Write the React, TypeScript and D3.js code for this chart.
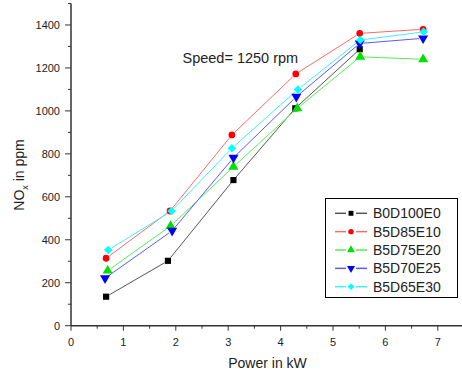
import { useEffect, useRef } from 'react'
import * as d3 from 'd3'

// Series data (power kW, NOx ppm)
const SERIES_NAMES = ['B0D100E0', 'B5D85E10', 'B5D75E20', 'B5D70E25', 'B5D65E30']

const powerB0D100E0 = [0.67, 1.85, 3.1, 4.28, 5.51]
const noxB0D100E0 = [135, 302, 678, 1012, 1287]

const powerB5D85E10 = [0.67, 1.89, 3.07, 4.29, 5.51, 6.72]
const noxB5D85E10 = [314, 534, 888, 1172, 1361, 1380]

const powerB5D75E20 = [0.7, 1.9, 3.1, 4.32, 5.52, 6.72]
const noxB5D75E20 = [256, 464, 740, 1012, 1252, 1240]

const powerB5D70E25 = [0.65, 1.93, 3.1, 4.3, 5.51, 6.72]
const noxB5D70E25 = [221, 442, 782, 1066, 1314, 1338]

const powerB5D65E30 = [0.71, 1.92, 3.07, 4.33, 5.52, 6.73]
const noxB5D65E30 = [352, 534, 826, 1100, 1330, 1368]

const X_TICKS = [0, 1, 2, 3, 4, 5, 6, 7]
const Y_TICKS = [0, 200, 400, 600, 800, 1000, 1200, 1400]

const STYLES = [
  { marker: 'square', color: '#000000', line: '#555555' },
  { marker: 'circle', color: '#ff0000', line: '#ff6a6a' },
  { marker: 'triUp', color: '#00e000', line: '#55ee55' },
  { marker: 'triDown', color: '#0000ff', line: '#5a5aff' },
  { marker: 'diamond', color: '#00ffff', line: '#3ff0ff' },
]

const FONT = '"Liberation Sans", Arial, sans-serif'

function markerPath(kind: string) {
  switch (kind) {
    case 'square': return d3.symbol(d3.symbolSquare, 38)()
    case 'circle': return d3.symbol(d3.symbolCircle, 36)()
    case 'triUp': return d3.symbol(d3.symbolTriangle, 44)()
    case 'triDown': return d3.symbol(d3.symbolTriangle, 44)()
    default: return d3.symbol(d3.symbolSquare, 36)() // rotated 45deg -> diamond
  }
}

function markerRotation(kind: string) {
  if (kind === 'triDown') return ' rotate(180)'
  if (kind === 'diamond') return ' rotate(45)'
  return ''
}

export default function App() {
  const ref = useRef<SVGSVGElement>(null)

  useEffect(() => {
    if (!ref.current) return
    const svg = d3.select(ref.current)
    svg.selectAll('*').remove()

    const series = [
      { x: powerB0D100E0, y: noxB0D100E0 },
      { x: powerB5D85E10, y: noxB5D85E10 },
      { x: powerB5D75E20, y: noxB5D75E20 },
      { x: powerB5D70E25, y: noxB5D70E25 },
      { x: powerB5D65E30, y: noxB5D65E30 },
    ]

    const x = d3.scaleLinear().domain([0, 7.5]).range([71, 464])
    const y = d3.scaleLinear().domain([0, 1500]).range([325.7, 3.5])

    const axisColor = '#333333'

    // X axis
    const gx = svg.append('g').attr('transform', `translate(0,${y(0)})`)
    gx.append('line').attr('x1', x(0)).attr('x2', x(7.5)).attr('stroke', axisColor).attr('stroke-width', 1.5)
    d3.range(0, 7.5, 0.5).forEach(v => {
      const major = Number.isInteger(v)
      gx.append('line')
        .attr('x1', x(v)).attr('x2', x(v))
        .attr('y1', 0).attr('y2', major ? 5 : 3)
        .attr('stroke', axisColor).attr('stroke-width', 1)
    })
    X_TICKS.forEach(v => {
      gx.append('text')
        .attr('x', x(v)).attr('y', 20)
        .attr('text-anchor', 'middle')
        .attr('font-family', FONT).attr('font-size', 11)
        .attr('fill', '#222')
        .text(String(v))
    })

    // Y axis
    const gy = svg.append('g').attr('transform', `translate(${x(0)},0)`)
    gy.append('line').attr('y1', y(0)).attr('y2', y(1500)).attr('stroke', axisColor).attr('stroke-width', 1.5)
    d3.range(0, 1501, 100).forEach(v => {
      const major = v % 200 === 0
      gy.append('line')
        .attr('y1', y(v)).attr('y2', y(v))
        .attr('x1', 0).attr('x2', major ? -6 : -3)
        .attr('stroke', axisColor).attr('stroke-width', 1)
    })
    Y_TICKS.forEach(v => {
      gy.append('text')
        .attr('x', -11).attr('y', y(v) + 4)
        .attr('text-anchor', 'end')
        .attr('font-family', FONT).attr('font-size', 11)
        .attr('fill', '#222')
        .text(String(v))
    })

    // Axis titles
    svg.append('text')
      .attr('x', (x(0) + x(7.5)) / 2).attr('y', 368)
      .attr('text-anchor', 'middle')
      .attr('font-family', FONT).attr('font-size', 14)
      .attr('fill', '#222')
      .text('Power in kW')

    const yl = svg.append('text')
      .attr('transform', 'translate(24,175) rotate(-90)')
      .attr('text-anchor', 'middle')
      .attr('font-family', FONT).attr('font-size', 14)
      .attr('fill', '#222')
    yl.append('tspan').text('NO')
    yl.append('tspan').attr('font-size', 9).attr('dy', 4).text('x')
    yl.append('tspan').attr('dy', -4).text(' in ppm')

    svg.append('text')
      .attr('x', 182.5).attr('y', 62.5)
      .attr('font-family', FONT).attr('font-size', 14.5)
      .attr('fill', '#222')
      .text('Speed= 1250 rpm')

    // Lines with small gaps at the markers, then markers
    const gap = 4
    series.forEach((s, si) => {
      const st = STYLES[si]
      const pts = s.x.map((v, i) => [x(v), y(s.y[i])] as [number, number])
      for (let i = 0; i < pts.length - 1; i++) {
        const [x0, y0] = pts[i]
        const [x1, y1] = pts[i + 1]
        const len = Math.hypot(x1 - x0, y1 - y0)
        const ux = (x1 - x0) / len
        const uy = (y1 - y0) / len
        svg.append('line')
          .attr('x1', x0 + ux * gap).attr('y1', y0 + uy * gap)
          .attr('x2', x1 - ux * gap).attr('y2', y1 - uy * gap)
          .attr('stroke', st.line).attr('stroke-width', 1)
      }
    })
    series.forEach((s, si) => {
      const st = STYLES[si]
      s.x.forEach((v, i) => {
        svg.append('path')
          .attr('d', markerPath(st.marker))
          .attr('transform', `translate(${x(v)},${y(s.y[i])})${markerRotation(st.marker)}`)
          .attr('fill', st.color)
      })
    })

    // Legend
    const lg = svg.append('g')
    lg.append('rect')
      .attr('x', 325.5).attr('y', 198.5).attr('width', 132).attr('height', 99)
      .attr('fill', '#fff').attr('stroke', '#000').attr('stroke-width', 1)
    SERIES_NAMES.forEach((name, i) => {
      const st = STYLES[i]
      const ry = 213.3 + i * 18.35
      lg.append('line').attr('x1', 335).attr('x2', 346).attr('y1', ry).attr('y2', ry).attr('stroke', st.line).attr('stroke-width', 1.5)
      lg.append('line').attr('x1', 356).attr('x2', 367).attr('y1', ry).attr('y2', ry).attr('stroke', st.line).attr('stroke-width', 1.5)
      lg.append('path')
        .attr('d', markerPath(st.marker))
        .attr('transform', `translate(351,${ry}) scale(0.8)${markerRotation(st.marker)}`)
        .attr('fill', st.color)
      lg.append('text')
        .attr('x', 373).attr('y', ry + 5)
        .attr('font-family', FONT).attr('font-size', 14)
        .attr('fill', '#222')
        .text(name)
    })
  }, [])

  return (
    <div style={{ position: 'fixed', left: 0, top: 0 }}>
      <svg ref={ref} width={462} height={374} style={{ display: 'block', background: '#fff' }} />
    </div>
  )
}
